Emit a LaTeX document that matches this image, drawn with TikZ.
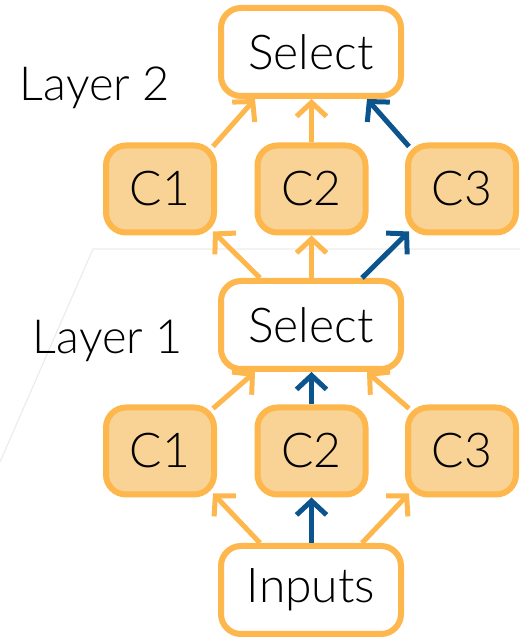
\documentclass[tikz,border=0pt]{standalone}
\usepackage{fontspec}
\setmainfont{Lato}[UprightFont=* Light]
\definecolor{boxorange}{RGB}{253,183,77}
\definecolor{cellfill}{RGB}{249,210,149}
\definecolor{pathblue}{RGB}{11,84,141}
\definecolor{planegray}{RGB}{236,236,236}
\usetikzlibrary{arrows.meta, positioning}

\begin{document}
\begin{tikzpicture}[x=1pt, y=1pt,
    selbox/.style={draw=boxorange, line width=6pt, rounded corners=20pt, fill=white, minimum width=180pt, minimum height=88pt, font=\fontsize{48}{56}\selectfont},
    cellbox/.style={draw=boxorange, line width=6pt, rounded corners=20pt, fill=cellfill, minimum width=108pt, minimum height=87pt, font=\fontsize{48}{56}\selectfont},
    layerlabel/.style={font=\fontsize{47}{56}\selectfont},
    oarrow/.style={-{Straight Barb[length=14pt, width=30pt, line width=5pt]}, line width=5pt, boxorange},
    barrow/.style={-{Straight Barb[length=14pt, width=30pt, line width=5pt]}, line width=5pt, pathblue}]
        \useasboundingbox (0,0) rectangle (520,639);
        % faint plane behind layer 1
        \draw[planegray, line width=1.2pt] (0,177) -- (93,390) -- (520,390);
        % Layer 2
        \node[selbox] (sel2) at (311,587) {Select};
        \node[layerlabel] (lay2) at (95,551) {Layer 2};
        \node[cellbox] (c1top) at (160,450) {C1};
        \node[cellbox] (c2top) at (311.5,450) {C2};
        \node[cellbox] (c3top) at (462,450) {C3};
        % Layer 1
        \node[selbox] (sel1) at (311,314) {Select};
        \node[layerlabel] (lay1) at (108,298) {Layer 1};
        \node[cellbox] (c1bot) at (160,188) {C1};
        \node[cellbox] (c2bot) at (311.5,188) {C2};
        \node[cellbox] (c3bot) at (462,188) {C3};
        % Inputs
        \node[selbox] (inp) at (311,49) {Inputs};
        % Arrows into top select
        \draw[oarrow] ([xshift=-4pt, yshift=-4pt]c1top.north east) -- ([xshift=37pt]sel2.south west);
        \draw[oarrow] (c2top.north) -- ([xshift=0.5pt]sel2.south);
        \draw[barrow] ([xshift=4pt, yshift=-4pt]c3top.north west) -- ([xshift=-37pt]sel2.south east);
        % Arrows out of middle select
        \draw[oarrow] ([xshift=42pt]sel1.north west) -- ([xshift=-4pt, yshift=4pt]c1top.south east);
        \draw[oarrow] ([xshift=0.5pt]sel1.north) -- (c2top.south);
        \draw[barrow] ([xshift=-42pt]sel1.north east) -- ([xshift=4pt, yshift=4pt]c3top.south west);
        % Arrows into middle select
        \draw[oarrow] ([xshift=-4pt, yshift=-4pt]c1bot.north east) -- ([xshift=37pt]sel1.south west);
        \draw[barrow] (c2bot.north) -- ([xshift=0.5pt]sel1.south);
        \draw[oarrow] ([xshift=4pt, yshift=-4pt]c3bot.north west) -- ([xshift=-37pt]sel1.south east);
        % Arrows out of inputs
        \draw[oarrow] ([xshift=42pt]inp.north west) -- ([xshift=-4pt, yshift=4pt]c1bot.south east);
        \draw[barrow] ([xshift=0.5pt]inp.north) -- (c2bot.south);
        \draw[oarrow] ([xshift=-42pt]inp.north east) -- ([xshift=4pt, yshift=4pt]c3bot.south west);
      \end{tikzpicture}
\end{document}
